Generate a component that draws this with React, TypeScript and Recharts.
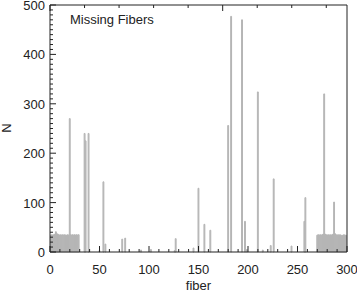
import { Bar, BarChart, XAxis, YAxis } from "recharts";

// missing-fiber counts, fibers 1..29 and 270..299 (contiguous runs)
const lowRun = [34, 35, 34, 35, 36, 41, 37, 36, 35, 34, 35, 34, 35, 34, 35, 34, 34, 35, 34, 270, 35, 34, 35, 34, 35, 34, 35, 34, 35];
const lowRunStart = 1;
const highRun = [34, 35, 34, 35, 34, 35, 36, 320, 36, 35, 34, 35, 34, 35, 34, 35, 36, 101, 37, 35, 34, 35, 34, 35, 34, 33, 34, 35, 34, 34];
const highRunStart = 270;

// isolated fibers in between
const spikeFibers = [35, 36, 39, 50, 54, 56, 73, 76, 92, 102, 126, 127, 145, 150, 156, 162, 180, 183, 194, 197, 199, 210, 215, 223, 226, 244, 257, 258];
const spikeCounts = [240, 225, 240, 3, 142, 16, 26, 28, 4, 5, 3, 27, 8, 129, 56, 44, 256, 477, 470, 62, 5, 324, 4, 13, 148, 12, 62, 110];

const xMajor = [0, 50, 100, 150, 200, 250, 300];
const yMajor = [0, 100, 200, 300, 400, 500];

const xTicks: number[] = [];
for (let v = 0; v <= 300; v += 10) xTicks.push(v);
const yTicks: number[] = [];
for (let v = 0; v <= 500; v += 10) yTicks.push(v);

const rows: { fiber: number; n: number }[] = [];
lowRun.forEach((n, i) => rows.push({ fiber: lowRunStart + i, n }));
spikeFibers.forEach((f, i) => rows.push({ fiber: f, n: spikeCounts[i] }));
highRun.forEach((n, i) => rows.push({ fiber: highRunStart + i, n }));
rows.sort((a, b) => a.fiber - b.fiber);

const ink = "#222";
const font = "'Liberation Sans', Arial, sans-serif";

const BottomTick = ({ x, y, payload }: any) => {
  const major = xMajor.includes(payload.value);
  return (
    <g>
      <line x1={x} x2={x} y1={y} y2={y - (major ? 6 : 3)} stroke={ink} />
      {major && (
        <text x={x} y={y + 22} textAnchor="middle" fontSize={13} fill={ink} fontFamily={font}>
          {payload.value}
        </text>
      )}
    </g>
  );
};

const TopTick = ({ x, y, payload }: any) => {
  const major = xMajor.includes(payload.value);
  return <line x1={x} x2={x} y1={y} y2={y + (major ? 6 : 3)} stroke={ink} />;
};

const LeftTick = ({ x, y, payload }: any) => {
  const major = yMajor.includes(payload.value);
  return (
    <g>
      <line x1={x} x2={x + (major ? 6 : 3)} y1={y} y2={y} stroke={ink} />
      {major && (
        <text x={x - 5} y={y + 5} textAnchor="end" fontSize={13} fill={ink} fontFamily={font}>
          {payload.value}
        </text>
      )}
    </g>
  );
};

const RightTick = ({ x, y, payload }: any) => {
  const major = yMajor.includes(payload.value);
  return <line x1={x} x2={x - (major ? 6 : 3)} y1={y} y2={y} stroke={ink} />;
};

export default function App() {
  return (
    <div style={{ position: "absolute", left: 0, top: 0, width: 357, height: 292, background: "#fff" }}>
      <BarChart
        width={357}
        height={292}
        data={rows}
        barSize={2}
        margin={{ top: 4, right: 9, bottom: 0, left: 49 }}
      >
        <XAxis
          xAxisId="bottom"
          dataKey="fiber"
          type="number"
          domain={[0, 300]}
          ticks={xTicks}
          interval={0}
          tickSize={0}
          tickMargin={0}
          tickLine={false}
          tick={BottomTick}
          height={40}
          axisLine={{ stroke: ink }}
          label={{ value: "fiber", position: "insideBottom", offset: 2, fontSize: 13, fill: ink, fontFamily: font }}
        />
        <XAxis
          xAxisId="top"
          orientation="top"
          type="number"
          domain={[0, 300]}
          ticks={xTicks}
          interval={0}
          tickSize={0}
          tickMargin={0}
          tickLine={false}
          tick={TopTick}
          height={1}
          axisLine={{ stroke: ink }}
        />
        <YAxis
          yAxisId="left"
          type="number"
          domain={[0, 500]}
          ticks={yTicks}
          interval={0}
          tickSize={0}
          tickMargin={0}
          tickLine={false}
          tick={LeftTick}
          width={1}
          axisLine={{ stroke: ink }}
        />
        <YAxis
          yAxisId="right"
          orientation="right"
          type="number"
          domain={[0, 500]}
          ticks={yTicks}
          interval={0}
          tickSize={0}
          tickMargin={0}
          tickLine={false}
          tick={RightTick}
          width={1}
          axisLine={{ stroke: ink }}
        />
        <Bar
          xAxisId="bottom"
          yAxisId="left"
          dataKey="n"
          fill="#c4c4c4"
          stroke="#b4b4b4"
          strokeWidth={1}
          barSize={2}
          isAnimationActive={false}
        />
      </BarChart>
      <div
        style={{
          position: "absolute",
          left: 70,
          top: 12,
          fontFamily: font,
          fontSize: 13,
          color: ink,
          whiteSpace: "nowrap",
        }}
      >
        Missing Fibers
      </div>
      <div
        style={{
          position: "absolute",
          left: 0,
          top: 120,
          width: 14,
          height: 16,
          lineHeight: "16px",
          textAlign: "center",
          transform: "rotate(-90deg)",
          fontFamily: font,
          fontSize: 13,
          color: ink,
        }}
      >
        N
      </div>
    </div>
  );
}
